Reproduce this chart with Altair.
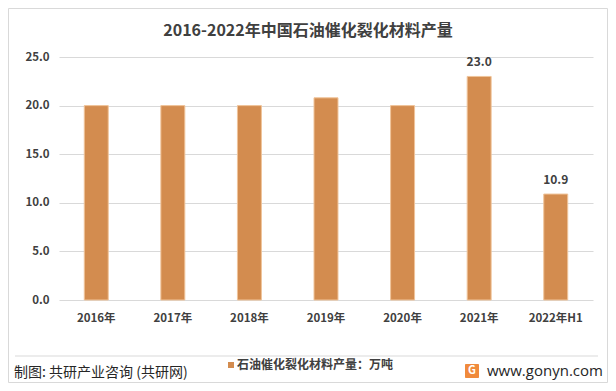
import altair as alt
import pandas as pd

years = ["2016年", "2017年", "2018年", "2019年", "2020年", "2021年", "2022年H1"]
values = [20.0, 20.0, 20.0, 20.8, 20.0, 23.0, 10.9]
show_label = [False, False, False, False, False, True, True]
y_ticks = [0, 5, 10, 15, 20, 25]

title_text = "2016-2022年中国石油催化裂化材料产量"
legend_text = "石油催化裂化材料产量：万吨"
source_text = "制图: 共研产业咨询 (共研网)"
site_text = "www.gonyn.com"

FONT = "Noto Sans CJK SC"
BAR = "#D38C4F"

df = pd.DataFrame({"year": years, "value": values, "show": show_label})
df["label"] = [f"{v:.1f}" for v in values]

x_enc = alt.X("year:N", sort=None, title=None,
              scale=alt.Scale(paddingInner=0.687, paddingOuter=0.33),
              axis=alt.Axis(labelAngle=0, labelFont=FONT, labelFontSize=11.5,
                            labelFontWeight="bold", labelColor="#404040",
                            labelPadding=12, domain=False, ticks=False, grid=False))
y_enc = alt.Y("value:Q", title=None,
              scale=alt.Scale(domain=[0, 25], nice=False),
              axis=alt.Axis(values=y_ticks, format=".1f", labelFont=FONT,
                            labelFontSize=11.5, labelFontWeight="bold",
                            labelColor="#404040", labelPadding=10,
                            domain=False, ticks=False, grid=True,
                            gridColor="#d9d9d9", gridWidth=1))

base = alt.Chart(df)
bars = base.mark_bar(color=BAR, stroke="#F0C49A", strokeWidth=1).encode(x=x_enc, y=y_enc)
labels = base.transform_filter(alt.datum.show).mark_text(
    font=FONT, fontSize=12, fontWeight="bold", color="#404040", dy=-7, baseline="bottom"
).encode(x=alt.X("year:N", sort=None), y="value:Q", text="label:N")

one = pd.DataFrame({"k": [0]})
ann = alt.Chart(one)

border = ann.mark_rect(fillOpacity=0, stroke="#d9d9d9", strokeWidth=1).encode(
    x=alt.value(-50.5), x2=alt.value(548.5), y=alt.value(-48.5), y2=alt.value(325.5))
title = ann.mark_text(font=FONT, fontSize=16, fontWeight="bold", color="#404040",
                      align="center", baseline="middle").encode(
    x=alt.value(249), y=alt.value(-26), text=alt.value(title_text))
footer_line = ann.mark_rule(color="#d9d9d9", strokeWidth=1).encode(
    x=alt.value(-44), x2=alt.value(539), y=alt.value(299))
source = ann.mark_text(font=FONT, fontSize=14, color="#262626", align="left",
                       baseline="middle").encode(
    x=alt.value(-45), y=alt.value(316), text=alt.value(source_text))
leg_sq = ann.mark_rect(color=BAR).encode(
    x=alt.value(169), x2=alt.value(175), y=alt.value(305), y2=alt.value(311))
leg_txt = ann.mark_text(font=FONT, fontSize=12, fontWeight="bold", color="#404040",
                        align="left", baseline="middle").encode(
    x=alt.value(178), y=alt.value(308), text=alt.value(legend_text))
logo = ann.mark_rect(color="#F08A3C", cornerRadius=1).encode(
    x=alt.value(406), x2=alt.value(420), y=alt.value(307), y2=alt.value(321))
logo_g = ann.mark_text(font=FONT, fontSize=11, fontWeight="bold", color="white",
                       align="center", baseline="middle").encode(
    x=alt.value(413), y=alt.value(314), text=alt.value("G"))
site = ann.mark_text(font="Open Sans", fontSize=15, color="#262626", align="left",
                     baseline="middle").encode(
    x=alt.value(428), y=alt.value(314), text=alt.value(site_text))

chart = alt.layer(
    border, bars, labels, title, footer_line, source, leg_sq, leg_txt, logo, logo_g, site
).properties(
    width=534, height=243,
    padding={"left": 51, "top": 49, "right": 15, "bottom": 83},
    autosize=alt.AutoSizeParams(type="none"),
    background="white",
).configure_view(stroke=None)

chart.save("out.html", embed_options={"renderer": "svg", "actions": False})
